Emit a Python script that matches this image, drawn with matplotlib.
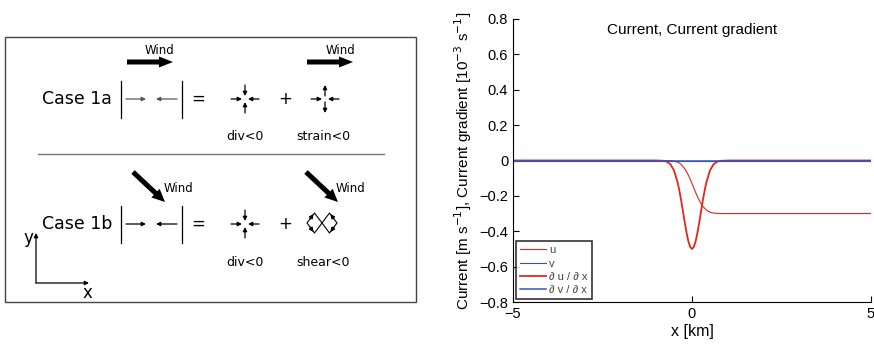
import numpy as np
import matplotlib
matplotlib.use("Agg")
import matplotlib.pyplot as plt
from matplotlib.patches import FancyArrow
from matplotlib.ticker import FuncFormatter

# values
x_km = [-5.0, -1.2, -1.0, -0.9, -0.8, -0.7, -0.6, -0.5, -0.4, -0.35, -0.3, -0.25, -0.2,
        -0.15, -0.1, -0.05, 0.0, 0.05, 0.1, 0.15, 0.2, 0.25, 0.3, 0.35, 0.4, 0.5,
        0.6, 0.7, 0.8, 0.9, 1.0, 1.2, 5.0]
u = [0.0, 0.0, 0.0, 0.0, 0.0, -0.001, -0.001, -0.004, -0.010, -0.015, -0.023, -0.034,
     -0.048, -0.064, -0.084, -0.106, -0.130, -0.155, -0.180, -0.203, -0.224, -0.243,
     -0.258, -0.270, -0.280, -0.292, -0.297, -0.299, -0.300, -0.300, -0.300, -0.300,
     -0.300]
v = [0.0] * len(x_km)
dudx = [0.0, 0.0, 0.0, -0.001, -0.002, -0.007, -0.022, -0.057, -0.125, -0.173, -0.229,
        -0.291, -0.353, -0.411, -0.458, -0.489, -0.500, -0.489, -0.458, -0.411, -0.353,
        -0.291, -0.229, -0.173, -0.125, -0.057, -0.022, -0.007, -0.002, -0.001, 0.0,
        0.0, 0.0]
dvdx = [0.0] * len(x_km)

yticks = [-0.8, -0.6, -0.4, -0.2, 0, 0.2, 0.4, 0.6, 0.8]
xticks = [-5, 0, 5]

red = '#e3261c'
blue = '#3552c4'

fig = plt.figure(figsize=(8.74, 3.54), dpi=100)

# ---- left: schematic, drawn in pixel units ----
ax0 = fig.add_axes([0, 0, 420 / 874, 1])
ax0.set_xlim(0, 420)
ax0.set_ylim(354, 0)
ax0.axis('off')

ax0.add_patch(plt.Rectangle((5, 37), 411, 265, fill=False, ec='#444444', lw=1.0))
ax0.plot([38, 384], [154, 154], color='#777777', lw=1.0)

fs_case = 12.5


def small_arrow(x0, y0, x1, y1, color='black', lw=0.9, ms=6):
    ax0.annotate('', xy=(x1, y1), xytext=(x0, y0),
                 arrowprops=dict(arrowstyle='-|>', color=color, lw=lw,
                                 mutation_scale=ms, shrinkA=0, shrinkB=0))


def div_symbol(cx, cy, outward_v=False):
    r, g = 14, 3
    small_arrow(cx - r, cy, cx - g, cy)
    small_arrow(cx + r, cy, cx + g, cy)
    if outward_v:
        small_arrow(cx, cy - g, cx, cy - r)
        small_arrow(cx, cy + g, cx, cy + r)
    else:
        small_arrow(cx, cy - r, cx, cy - g)
        small_arrow(cx, cy + r, cx, cy + g)


def shear_symbol(cx, cy):
    w, h = 15, 10
    for s in (-1, 1):
        xs = [cx, cx + s * w / 2, cx + s * w, cx + s * w / 2, cx]
        ys = [cy, cy - h, cy, cy + h, cy]
        ax0.plot(xs, ys, color='black', lw=0.8)
    small_arrow(cx - w * 0.8, cy - h * 0.4, cx - w / 2 - 1, cy - h + 1)
    small_arrow(cx - w * 0.8, cy + h * 0.4, cx - w / 2 - 1, cy + h - 1)
    small_arrow(cx + w * 0.8, cy - h * 0.4, cx + w / 2 + 1, cy - h + 1)
    small_arrow(cx + w * 0.8, cy + h * 0.4, cx + w / 2 + 1, cy + h - 1)


def row(y, label, arrow_color):
    ax0.text(77, y, label, fontsize=fs_case, ha='center', va='center')
    ax0.plot([121, 121], [y - 18, y + 19], color='black', lw=0.9)
    ax0.plot([182, 182], [y - 18, y + 19], color='black', lw=0.9)
    small_arrow(126, y, 146, y, color=arrow_color)
    small_arrow(177, y, 156, y, color=arrow_color)
    ax0.text(198, y, '=', fontsize=12, ha='center', va='center')
    div_symbol(245, y)
    ax0.text(285, y, '+', fontsize=12, ha='center', va='center')


# case 1a
ax0.text(159, 50, 'Wind', fontsize=8.5, ha='center', va='center')
ax0.text(340, 50, 'Wind', fontsize=8.5, ha='center', va='center')
for x0 in (127, 307):
    ax0.add_patch(FancyArrow(x0, 62, 46, 0, width=5, head_width=11, head_length=14,
                             length_includes_head=True, color='black', lw=0))
row(99, 'Case 1a', '#555555')
div_symbol(325, 99, outward_v=True)
ax0.text(245, 136, 'div<0', fontsize=9, ha='center', va='center')
ax0.text(323, 136, 'strain<0', fontsize=9, ha='center', va='center')

# case 1b
for x0 in (133, 306):
    ax0.add_patch(FancyArrow(x0, 172, 32, 30, width=5, head_width=12, head_length=13,
                             length_includes_head=True, color='black', lw=0))
ax0.text(178, 188, 'Wind', fontsize=8.5, ha='center', va='center')
ax0.text(350, 188, 'Wind', fontsize=8.5, ha='center', va='center')
row(224, 'Case 1b', 'black')
shear_symbol(322, 223)
ax0.text(245, 262, 'div<0', fontsize=9, ha='center', va='center')
ax0.text(323, 262, 'shear<0', fontsize=9, ha='center', va='center')

# coordinate axes
small_arrow(36, 283, 36, 233, lw=0.9, ms=6)
small_arrow(36, 283, 89, 283, lw=0.9, ms=6)
ax0.text(28, 238, 'y', fontsize=12, ha='center', va='center')
ax0.text(87, 293, 'x', fontsize=12, ha='center', va='center')

# ---- right: current profile ----
ax = fig.add_axes([513 / 874, 52 / 354, 358 / 874, 283 / 354])
ax.plot(x_km, u, color=red, lw=0.8, label='u')
ax.plot(x_km, v, color=blue, lw=0.8, label='v')
ax.plot(x_km, dudx, color=red, lw=1.3, label='∂ u / ∂ x')
ax.plot(x_km, dvdx, color=blue, lw=1.1, label='∂ v / ∂ x')

ax.set_xlim(-5, 5)
ax.set_ylim(-0.8, 0.8)
ax.set_xticks(xticks)
ax.set_yticks(yticks)
fmt = lambda val, pos: '0' if abs(val) < 1e-9 else ('%g' % val).replace('-', '\u2212')
ax.yaxis.set_major_formatter(FuncFormatter(fmt))
ax.xaxis.set_major_formatter(FuncFormatter(fmt))
ax.spines['top'].set_visible(False)
ax.spines['right'].set_visible(False)
ax.tick_params(direction='in', length=4, labelsize=10.5)
for lab in ax.get_xticklabels() + ax.get_yticklabels():
    lab.set_family(['Liberation Sans', 'DejaVu Sans'])

ax.text(0.5, 0.985, 'Current, Current gradient', transform=ax.transAxes,
        ha='center', va='top', fontsize=11, family=['Liberation Sans', 'DejaVu Sans'])
ax.set_xlabel('x [km]', fontsize=11.5, family=['Liberation Sans', 'DejaVu Sans'], labelpad=2)
ax.set_ylabel(r'Current [m s$^{-1}$], Current gradient [10$^{-3}$ s$^{-1}$]',
              fontsize=11, family=['Liberation Sans', 'DejaVu Sans'], labelpad=4)

leg = ax.legend(loc='lower left', frameon=True, fancybox=False,
                handlelength=2.4, handletextpad=0.25, labelspacing=0.3,
                borderpad=0.35, borderaxespad=0.25,
                prop={'family': ['Liberation Sans', 'DejaVu Sans'], 'size': 8})
leg.get_frame().set_edgecolor('black')
leg.get_frame().set_linewidth(1.2)
for t in leg.get_texts():
    t.set_color('#444444')

fig.savefig('out.png', dpi=100)
